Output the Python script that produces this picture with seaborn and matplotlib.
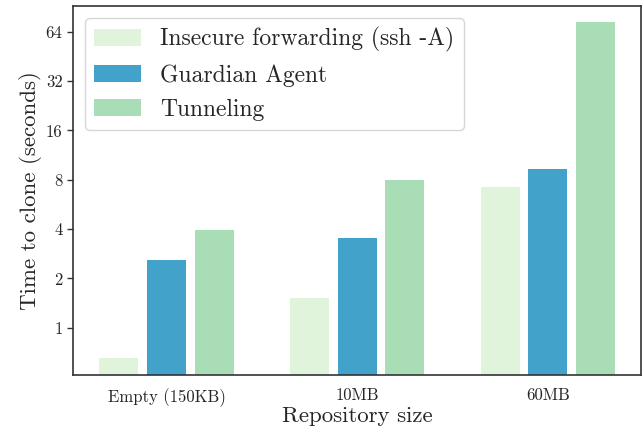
import pandas as pd
import numpy as np
import matplotlib
import matplotlib.pyplot as plt
import seaborn as sns
from matplotlib.ticker import FixedLocator, FixedFormatter, NullLocator

sizes = ['Empty (150KB)', '10MB', '60MB']
methods = ['Insecure forwarding (ssh -A)', 'Guardian Agent', 'Tunneling']
insecure = [0.65, 1.53, 7.26]
guardian = [2.61, 3.55, 9.34]
tunneling = [3.97, 8.0, 73.4]
colors = ['#e0f3db', '#43a2ca', '#a8ddb5']
yticks = [1, 2, 4, 8, 16, 32, 64]

df = pd.DataFrame({
    'size': sizes * 3,
    'method': [methods[0]] * 3 + [methods[1]] * 3 + [methods[2]] * 3,
    'time': insecure + guardian + tunneling,
})

sns.set_style('white')
plt.rcParams['font.family'] = ['cmr10', 'DejaVu Serif']
plt.rcParams['mathtext.fontset'] = 'cm'
plt.rcParams['axes.formatter.use_mathtext'] = True

fig = plt.figure(figsize=(6.43, 4.32), dpi=100)
ax = fig.add_axes([0.1135, 0.132, 0.884, 0.854])
sns.barplot(data=df, x='size', y='time', hue='method', palette=colors,
            width=0.75, gap=0.18, ax=ax, saturation=1, linewidth=0)
ax.set_yscale('log', base=2)
ax.set_ylim(0.515, 92)
ax.set_xlim(-0.49, 2.49)
ax.yaxis.set_major_locator(FixedLocator(yticks))
ax.yaxis.set_major_formatter(FixedFormatter([str(t) for t in yticks]))
ax.yaxis.set_minor_locator(NullLocator())
ax.tick_params(axis='y', left=True, length=4, width=1, labelsize=12, color='#333333')
ax.tick_params(axis='x', bottom=False, labelsize=12, pad=6)
for s in ax.spines.values():
    s.set_color('#333333')
    s.set_linewidth(1.2)
ax.set_xlabel('Repository size', fontsize=16.5, labelpad=0)
ax.set_ylabel('Time to clone (seconds)', fontsize=16.5, labelpad=3)
leg = ax.legend(loc='upper left', fontsize=17, handlelength=2.0, handleheight=0.7,
                handletextpad=0.8, labelspacing=0.5, borderpad=0.4,
                borderaxespad=0.5, frameon=True, fancybox=True)
leg.get_frame().set_edgecolor('#cccccc')
fig.savefig('out.png', dpi=100)
